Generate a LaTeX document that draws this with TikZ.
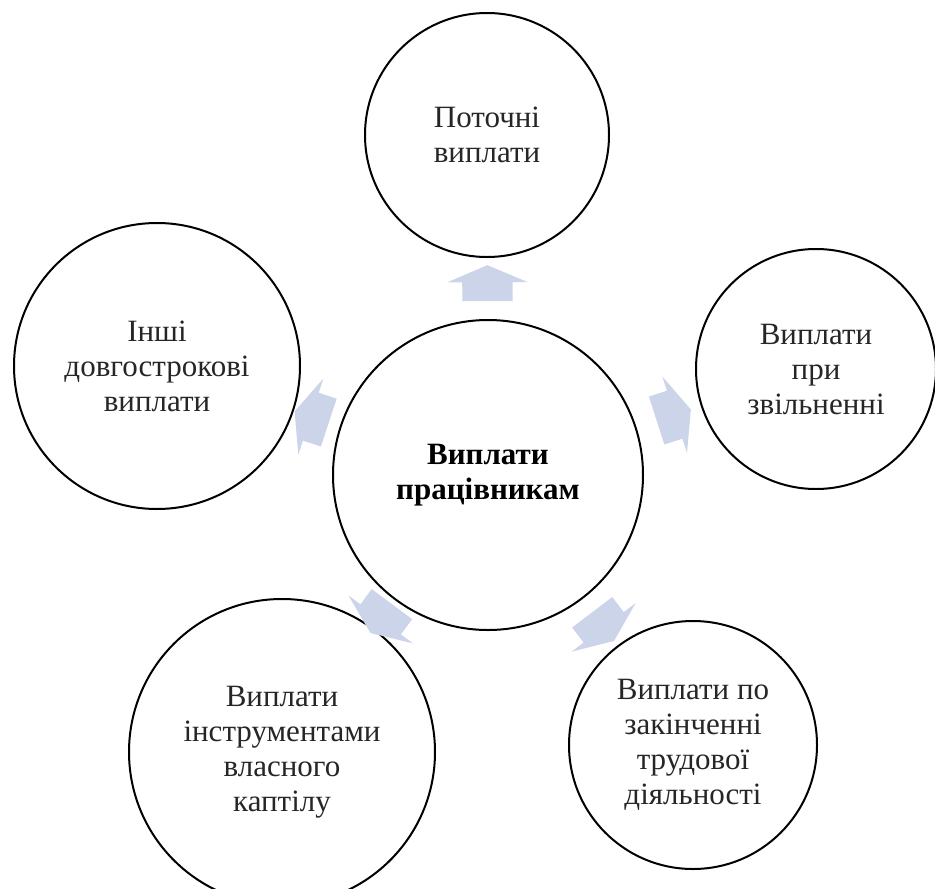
\documentclass[tikz,border=0pt]{standalone}
\usepackage{fontspec}
\setmainfont{Liberation Serif}
\usepackage{tikz}
\usetikzlibrary{shapes.arrows,positioning,calc}
\usepackage{xcolor}
\definecolor{flowblue}{RGB}{204,212,234}

\begin{document}
\begin{tikzpicture}[
    x=1pt, y=-1pt,
    bubble/.style={draw, circle, line width=2pt, align=center, inner sep=0pt, text=black!85, font=\fontsize{31}{35}\selectfont},
    flow/.style={single arrow, fill=flowblue, draw=none, minimum height=36pt, single arrow head extend=15pt, single arrow tip angle=134, inner xsep=0pt, inner ysep=25pt, sloped, allow upside down}
]
    \useasboundingbox (0,0) rectangle (935,889);

    % Draw nodes
    \node (centre) [bubble, minimum size=310pt, text=black, font=\fontsize{31}{35}\selectfont\bfseries] at (488,475) {Виплати\\працівникам};
    \node (current) [bubble, minimum size=244pt] at (487,135) {Поточні\\виплати};
    \node (dismissal) [bubble, minimum size=240pt] at (816,369) {Виплати\\при\\звільненні};
    \node (retirement) [bubble, minimum size=248pt] at (693,745) {Виплати по\\закінченні\\трудової\\діяльності};
    \node (equity) [bubble, minimum size=306pt] at (282,752) {Виплати\\інструментами\\власного\\каптілу};
    \node (longterm) [bubble, minimum size=286pt] at (157,366) {Інші\\довгострокові\\виплати};

    % Draw connections
    \path (centre) -- node[flow] {} (current);
    \path (centre) -- node[flow] {} (dismissal);
    \path (centre) -- node[flow] {} (retirement);
    \path (centre) -- node[flow] {} (equity);
    \path (centre) -- node[flow] {} (longterm);

\end{tikzpicture}
\end{document}
